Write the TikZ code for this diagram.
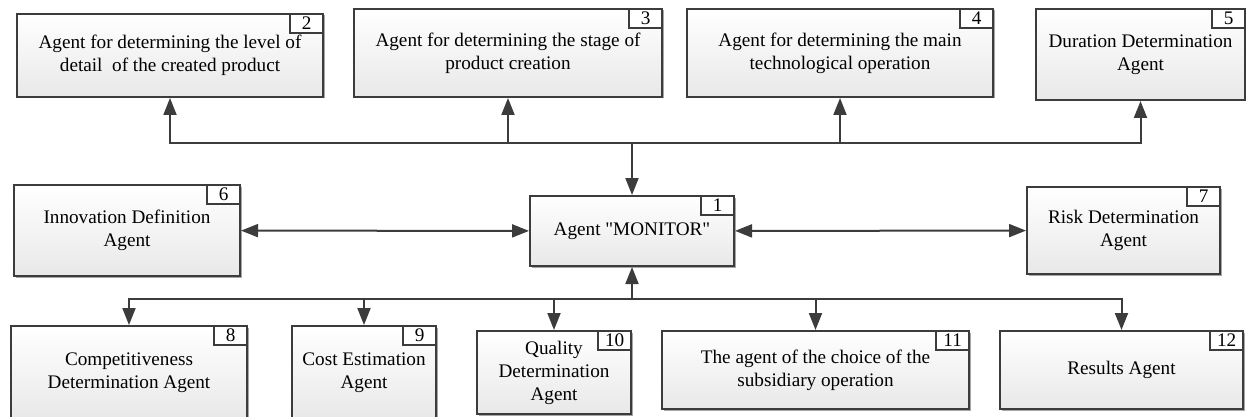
\documentclass[tikz,border=0pt]{standalone}
\usepackage{fontspec}
\setmainfont{Liberation Serif}[Ligatures=TeXReset]
\usepackage{tikz}
\usetikzlibrary{arrows.meta}
\usetikzlibrary{shadows}
\definecolor{darkline}{HTML}{3C3C3C}

\begin{document}
\begin{tikzpicture}[x=1pt, y=-1pt, >={Triangle[length=17pt,width=13pt]}, line width=2pt, draw=darkline,
    font=\fontsize{19.2}{23}\selectfont,
    agent/.style = {draw=darkline, line width=2pt, top color=white, bottom color=black!9, align=center, inner sep=2pt,
      drop shadow={shadow xshift=1.5pt, shadow yshift=-1.5pt, opacity=0.35, fill=black}},
    tag/.style = {draw=darkline, line width=1.8pt, fill=white, anchor=north east, inner sep=0pt,
      minimum width=33pt, minimum height=19pt}]
    \useasboundingbox (0,0) rectangle (1246,417);
    % Nodes

    \node[agent, minimum width=204pt, minimum height=70pt] (1) at (632,231) {Agent "MONITOR"};
    \node[agent, minimum width=306pt, minimum height=83pt] (2) at (170,55.5) {Agent for determining the level of\\detail~ of the created product};
    \node[agent, minimum width=308pt, minimum height=88pt] (3) at (508,53) {Agent for determining the stage of\\product creation};
    \node[agent, minimum width=306pt, minimum height=88pt] (4) at (840,53) {Agent for determining the main\\technological operation};
    \node[agent, minimum width=209pt, minimum height=91pt] (5) at (1140.5,54.5) {Duration Determination\\Agent};
    \node[agent, minimum width=226pt, minimum height=91pt] (6) at (127,230.5) {Innovation Definition\\Agent};
    \node[agent, minimum width=193pt, minimum height=87pt] (7) at (1123.5,230.5) {Risk Determination\\Agent};
    \node[agent, minimum width=236pt, minimum height=94pt] (8) at (129,373) {Competitiveness\\Determination Agent};
    \node[agent, minimum width=144pt, minimum height=94pt] (9) at (364,373) {Cost Estimation\\Agent};
    \node[agent, minimum width=154pt, minimum height=83pt] (10) at (554,372.5) {Quality\\Determination\\Agent};
    \node[agent, minimum width=307pt, minimum height=78pt] (11) at (815.5,370) {The agent of the choice of the\\subsidiary operation};
    \node[agent, minimum width=243pt, minimum height=78pt] (12) at (1121.5,370) {Results Agent};

    % Number tags
    \foreach \n in {1,...,12}
      \node[tag] (t\n) at (\n.north east) {\n};

    % Edges
    \coordinate (up) at (632,143);
    \coordinate (down) at (632,299);
    \draw[->] (up) -- (1);
    \draw[->] (down) -- (1);
    \foreach \n in {2,3,4,5}
      \draw[->] (up) -| (\n);
    \foreach \n in {8,9,10,11,12}
      \draw[->] (down) -| (\n);
    \draw[<->] (6) -- (1);
    \draw[<->] (1) -- (7);
\end{tikzpicture}
\end{document}
